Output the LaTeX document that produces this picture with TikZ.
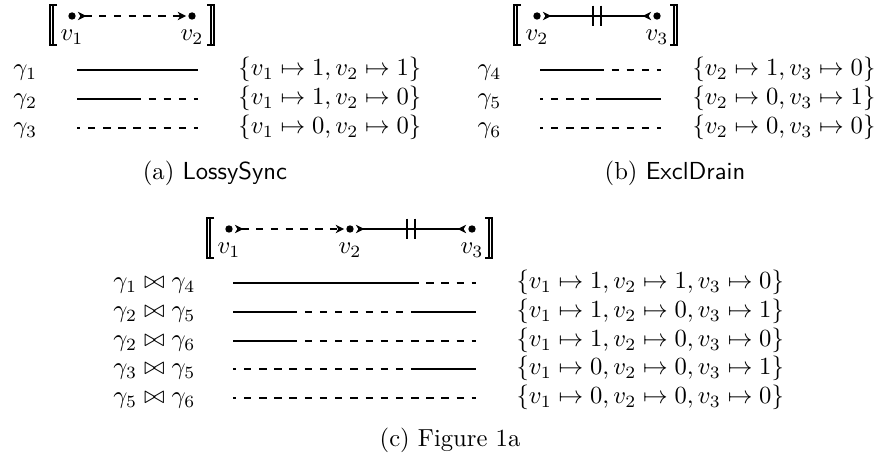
\documentclass[tikz,border=0pt]{standalone}
\usepackage{amsmath,amssymb}
\usetikzlibrary{arrows.meta,positioning}

\tikzset{
  reo/.tip={Stealth[length=3.4pt,width=3.4pt,inset=1pt]},
  port/.style={circle,fill,inner sep=0pt,minimum size=3pt,outer sep=0.9pt},
  portlbl/.style={inner sep=0pt},
  brk/.style={line width=0.45pt},
  lossy/.style={thick,dashed,{reo[reversed]}-{reo}},
  drain/.style={thick,{reo[reversed]}-{reo[reversed]}},
  fire/.style={thick},
  nofire/.style={thick,dash pattern=on 3pt off 3.15pt,dash phase=1.67pt},
  rowlbl/.style={anchor=base west,inner sep=0pt},
  capt/.style={anchor=base,inner sep=0pt},
}

% semantic brackets, drawn by hand (x of outer stroke, y of the ports)
\newcommand{\semL}[2]{%
  \draw[brk] (#1+7,#2-11) -| (#1,#2+29) -- (#1+7,#2+29);
  \draw[brk] (#1+3,#2-11) -- (#1+3,#2+29);}
\newcommand{\semR}[2]{%
  \draw[brk] (#1-7,#2-11) -| (#1,#2+29) -- (#1-7,#2+29);
  \draw[brk] (#1-3,#2-11) -- (#1-3,#2+29);}
% the double bar of an exclusive drain
\newcommand{\exclbar}[1]{%
  \draw[thick] ([xshift=-1.6pt,yshift=4.2pt]#1) -- ([xshift=-1.6pt,yshift=-4.2pt]#1);
  \draw[thick] ([xshift=1.6pt,yshift=4.2pt]#1) -- ([xshift=1.6pt,yshift=-4.2pt]#1);}

\begin{document}
\begin{tikzpicture}[x=0.406pt,y=-0.406pt]
  \useasboundingbox (0,0) rectangle (885,460);

  % (a) LossySync
  \semL{50}{16}
  \semR{214}{16}
  \node[port] (a1) at (72,16) {};
  \node[port] (a2) at (192,16) {};
  \node[portlbl,below=3pt of a1] (a1l) {$v_1$};
  \node[portlbl,below=3pt of a2] (a2l) {$v_2$};
  \draw[lossy] (a1) -- (a2);
  \foreach \i/\y/\p/\q/\va/\vb in {1/70/fire/fire/1/1, 2/99/fire/nofire/1/0, 3/128/nofire/nofire/0/0}{
    \node[rowlbl] (ga\i) at (13,\y+6) {$\gamma_\i$};
    \coordinate (sa\i) at (77,\y);
    \coordinate (ma\i) at (137.5,\y);
    \coordinate (ea\i) at (198,\y);
    \draw[\p] (sa\i) -- (ma\i);
    \draw[\q] (ma\i) -- (ea\i);
    \node[rowlbl] (ta\i) at (238,\y+6) {$\{v_1\mapsto \va, v_2\mapsto \vb\}$};
  }
  \node[capt] (capa) at (215,180) {(a) \textsf{LossySync}};

  % (b) ExclDrain
  \semL{514}{16}
  \semR{677}{16}
  \node[port] (b2) at (537,16) {};
  \node[port] (b3) at (657,16) {};
  \node[portlbl,below=3pt of b2] (b2l) {$v_2$};
  \node[portlbl,below=3pt of b3] (b3l) {$v_3$};
  \draw[drain] (b2) -- coordinate (bx) (b3);
  \exclbar{bx}
  \foreach \i/\y/\p/\q/\va/\vb in {4/70/fire/nofire/1/0, 5/99/nofire/fire/0/1, 6/128/nofire/nofire/0/0}{
    \node[rowlbl] (gb\i) at (477,\y+6) {$\gamma_\i$};
    \coordinate (sb\i) at (540,\y);
    \coordinate (mb\i) at (600.5,\y);
    \coordinate (eb\i) at (661,\y);
    \draw[\p] (sb\i) -- (mb\i);
    \draw[\q] (mb\i) -- (eb\i);
    \node[rowlbl] (tb\i) at (692,\y+6) {$\{v_2\mapsto \va, v_3\mapsto \vb\}$};
  }
  \node[capt] (capb) at (675,180) {(b) \textsf{ExclDrain}};

  % (c) composition
  \semL{207}{229}
  \semR{492}{229}
  \node[port] (c1) at (229,229) {};
  \node[port] (c2) at (350,229) {};
  \node[port] (c3) at (472,229) {};
  \node[portlbl,below=3pt of c1] (c1l) {$v_1$};
  \node[portlbl,below=3pt of c2] (c2l) {$v_2$};
  \node[portlbl,below=3pt of c3] (c3l) {$v_3$};
  \draw[lossy] (c1) -- (c2);
  \draw[drain] (c2) -- coordinate (cx) (c3);
  \exclbar{cx}
  \foreach \y/\lab/\p/\q/\r/\s/\va/\vb/\vc [count=\i] in {
      283/{\gamma_1\bowtie\gamma_4}/fire/fire/fire/nofire/1/1/0,
      312/{\gamma_2\bowtie\gamma_5}/fire/nofire/nofire/fire/1/0/1,
      341/{\gamma_2\bowtie\gamma_6}/fire/nofire/nofire/nofire/1/0/0,
      369/{\gamma_3\bowtie\gamma_5}/nofire/nofire/nofire/fire/0/0/1,
      398/{\gamma_5\bowtie\gamma_6}/nofire/nofire/nofire/nofire/0/0/0}{
    \node[rowlbl] (gc\i) at (113,\y+6) {$\lab$};
    \coordinate (sc\i) at (233,\y);
    \coordinate (qc\i) at (293.75,\y);
    \coordinate (mc\i) at (354.5,\y);
    \coordinate (rc\i) at (415.25,\y);
    \coordinate (ec\i) at (476,\y);
    \draw[\p] (sc\i) -- (qc\i);
    \draw[\q] (qc\i) -- (mc\i);
    \draw[\r] (mc\i) -- (rc\i);
    \draw[\s] (rc\i) -- (ec\i);
    \node[rowlbl] (tc\i) at (516,\y+6) {$\{v_1\mapsto \va, v_2\mapsto \vb, v_3\mapsto \vc\}$};
  }
  \node[capt] (capc) at (450,447) {(c) Figure 1a};
\end{tikzpicture}
\end{document}
